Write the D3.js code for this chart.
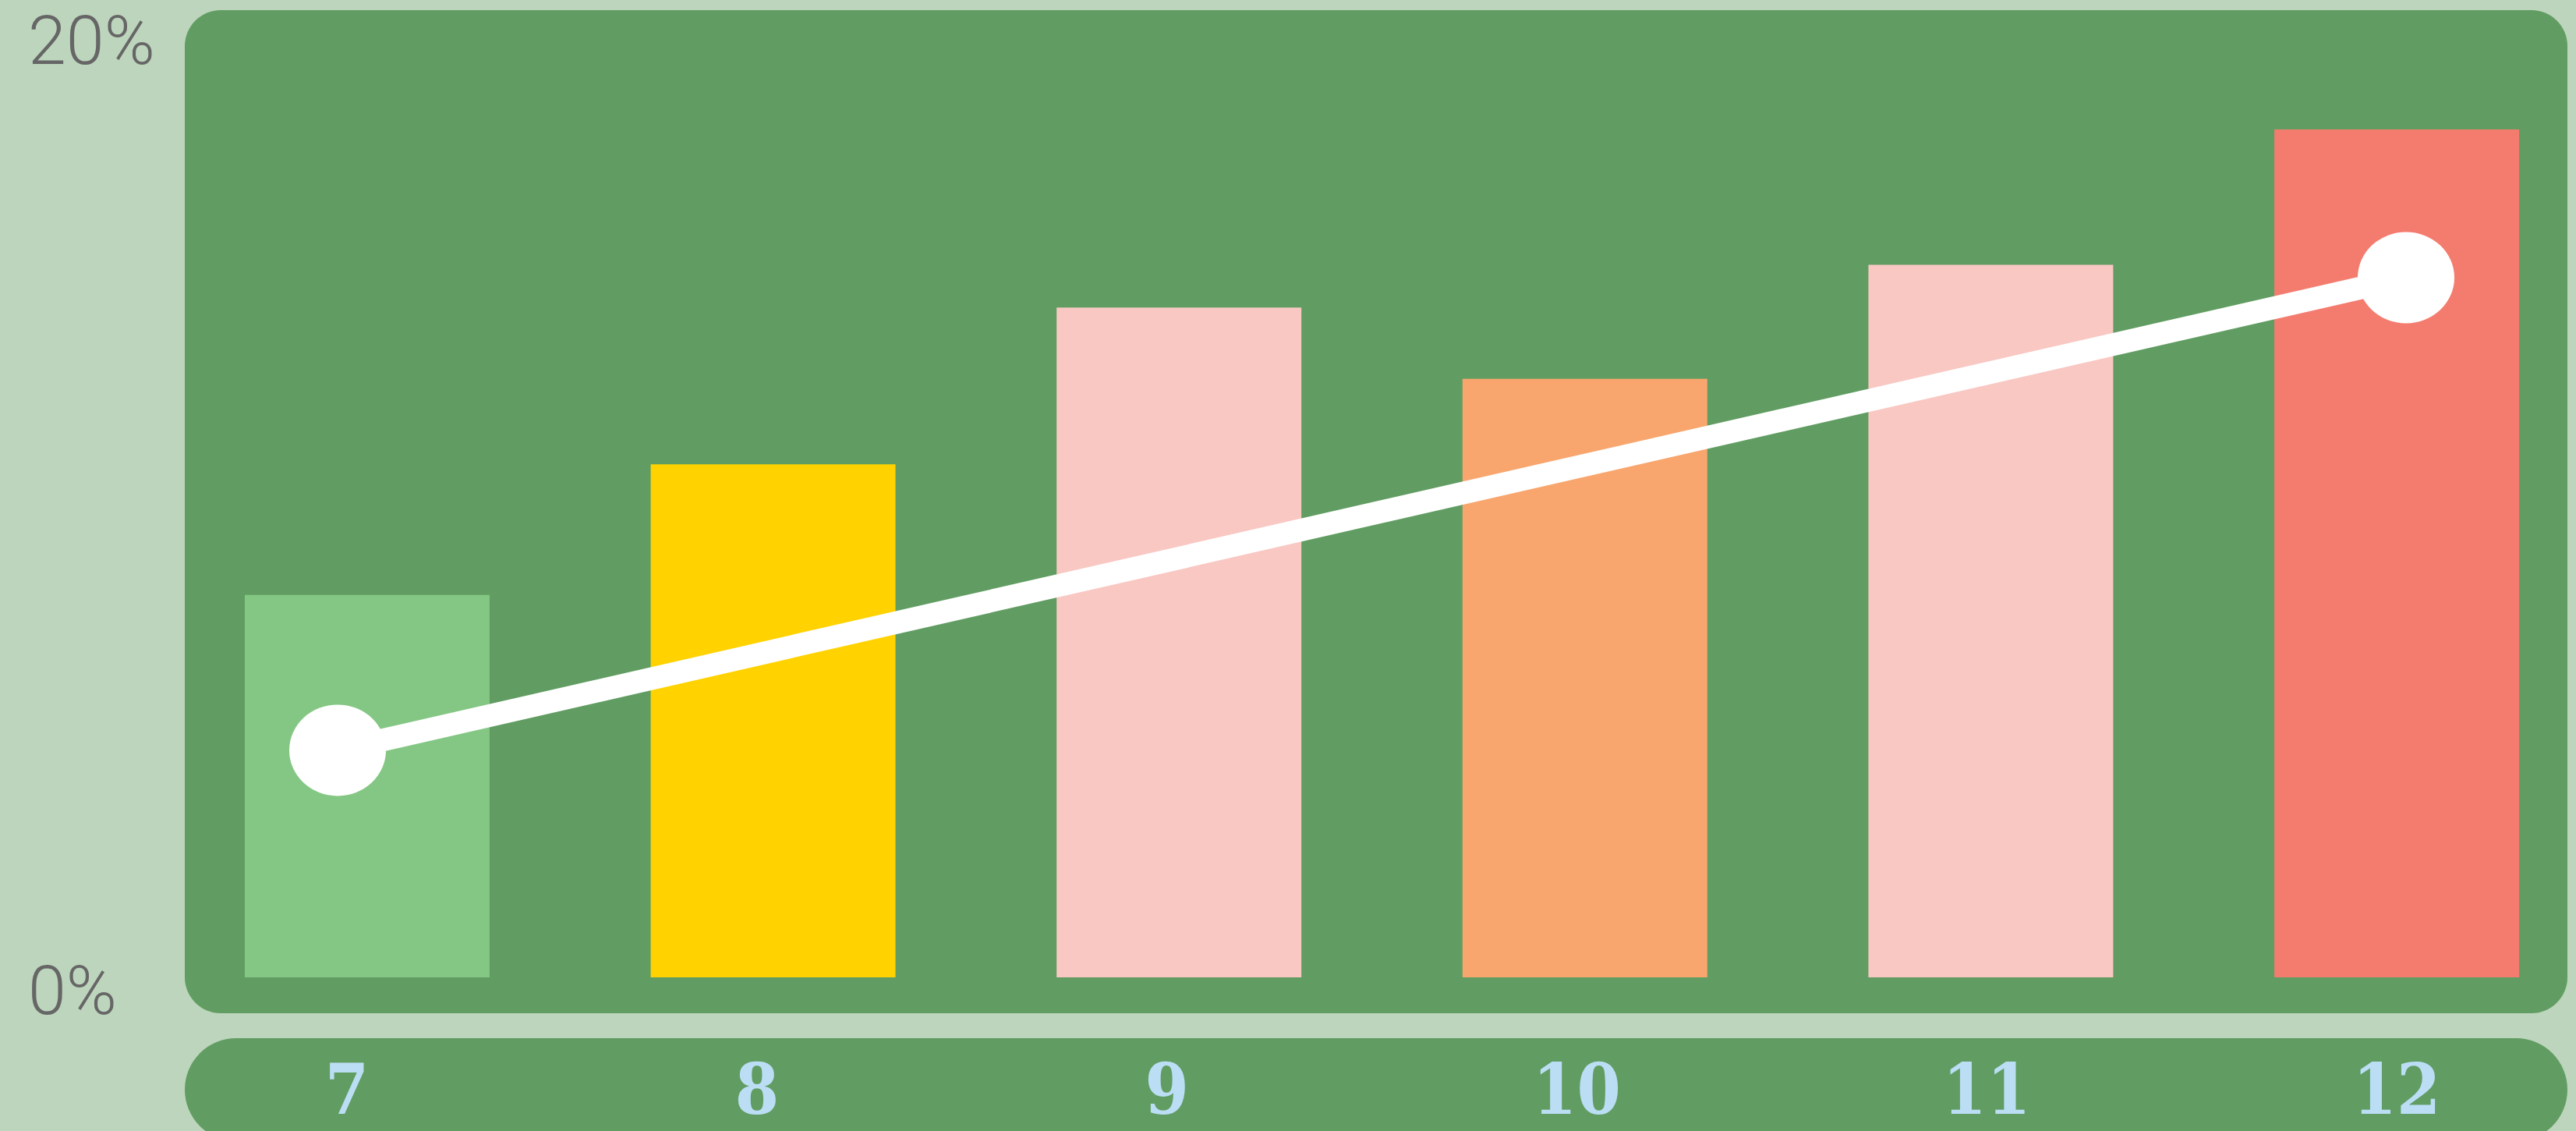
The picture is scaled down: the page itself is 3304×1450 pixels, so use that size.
<!DOCTYPE html>
<html>
<head>
<meta charset="utf-8">
<script src="https://cdn.jsdelivr.net/npm/d3@7"></script>
<style>
  body { margin: 0; background: #bcd5bc; }
  svg { display: block; }
</style>
</head>
<body>
<div id="chart"></div>
<script>
// data
const months = ['7', '8', '9', '10', '11', '12'];
const barValues = [8.05, 10.8, 14.1, 12.6, 15.0, 17.85];
const barColors = ['#84c784', '#ffd200', '#f9c8c3', '#f8a66e', '#f9c8c3', '#f47c6f'];
const trendMonths = ['7', '12'];
const trendValues = [4.78, 14.73];
const yTicks = [0, 20];

const W = 3304, H = 1450;

const svg = d3.select('#chart').append('svg')
  .attr('width', W)
  .attr('height', H);

svg.append('rect')
  .attr('width', W).attr('height', H)
  .attr('fill', '#bcd5bc');

// panels
svg.append('rect')
  .attr('x', 237).attr('y', 13)
  .attr('width', 3056).attr('height', 1286)
  .attr('rx', 46).attr('ry', 46)
  .attr('fill', '#619d62');

svg.append('rect')
  .attr('x', 237).attr('y', 1331)
  .attr('width', 3056).attr('height', 132)
  .attr('rx', 66).attr('ry', 66)
  .attr('fill', '#619d62');

// scales
const xScale = d3.scaleBand()
  .domain(months)
  .range([314, 3231])
  .paddingInner(0.397)
  .paddingOuter(0);

const yScale = d3.scaleLinear()
  .domain([0, 20])
  .range([1253, 35]);

const lineX = d3.scalePoint()
  .domain(trendMonths)
  .range([433, 3086]);

const labelX = d3.scalePoint()
  .domain(months)
  .range([445, 3074]);

// bars
const bars = months.map((m, i) => ({ month: m, value: barValues[i], color: barColors[i] }));

svg.append('g')
  .selectAll('rect')
  .data(bars)
  .join('rect')
  .attr('x', d => xScale(d.month))
  .attr('y', d => yScale(d.value))
  .attr('width', xScale.bandwidth())
  .attr('height', d => yScale(0) - yScale(d.value))
  .attr('fill', d => d.color);

// trend line
const trend = trendMonths.map((m, i) => ({ month: m, value: trendValues[i] }));

svg.append('path')
  .datum(trend)
  .attr('d', d3.line().x(d => lineX(d.month)).y(d => yScale(d.value)))
  .attr('fill', 'none')
  .attr('stroke', '#fff')
  .attr('stroke-width', 29);

svg.append('g')
  .selectAll('ellipse')
  .data(trend)
  .join('ellipse')
  .attr('cx', d => lineX(d.month))
  .attr('cy', d => yScale(d.value))
  .attr('rx', 62)
  .attr('ry', 58.5)
  .attr('fill', '#fff');

// y labels
svg.append('g')
  .selectAll('text')
  .data(yTicks)
  .join('text')
  .attr('x', 36)
  .attr('y', d => yScale(d) + 47)
  .attr('font-family', 'Roboto, sans-serif')
  .attr('font-weight', 300)
  .attr('font-size', 88)
  .attr('fill', '#666')
  .text(d => d + '%');

// x labels
svg.append('g')
  .selectAll('text')
  .data(months)
  .join('text')
  .attr('x', d => labelX(d))
  .attr('y', 1428)
  .attr('text-anchor', 'middle')
  .attr('font-family', '"DejaVu Serif Condensed", "DejaVu Serif", serif')
  .attr('font-stretch', 'condensed')
  .attr('font-weight', 'bold')
  .attr('font-size', 90)
  .attr('fill', '#bbdef5')
  .text(d => d);
</script>
</body>
</html>
